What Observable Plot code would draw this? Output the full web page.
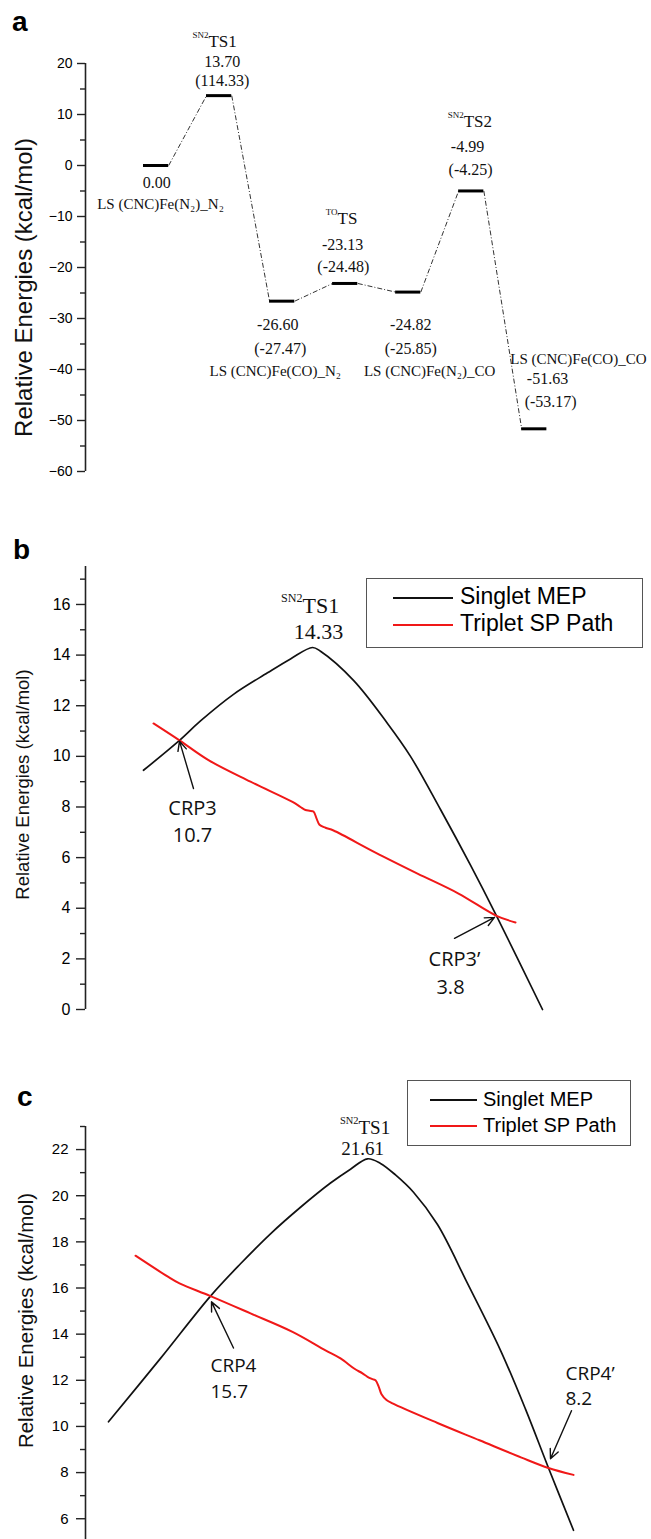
<!DOCTYPE html>
<html><head><meta charset="utf-8">
<script src="https://cdn.jsdelivr.net/npm/d3@7"></script>
<script src="https://cdn.jsdelivr.net/npm/@observablehq/plot@0.6"></script>
<style>
html,body{margin:0;padding:0;background:#fff;overflow:hidden}
#root{position:relative;width:651px;height:1539px;overflow:hidden}
.letter{position:absolute;font-family:"Liberation Sans",Arial,sans-serif;font-weight:bold;line-height:1;color:#000}
.legend{position:absolute;border:1.5px solid #555;box-sizing:border-box;font-family:"Liberation Sans",Arial,sans-serif;color:#000;background:#fff}
.legend .sw{position:absolute;height:0;border-top-style:solid}
.legend .lab{position:absolute;line-height:1;white-space:nowrap}
</style></head><body><div id="root"></div>
<script>
// ---------- Panel a : energy profile ----------
const levelA   = [0, 1, 2, 3, 4, 5, 6];
const energyA  = [0.00, 13.70, -26.60, -23.13, -24.82, -4.99, -51.63];
const energyA2 = [null, 114.33, -27.47, -24.48, -25.85, -4.25, -53.17];
const nameA    = ["LS (CNC)Fe(N₂)_N₂", null, "LS (CNC)Fe(CO)_N₂", null, "LS (CNC)Fe(N₂)_CO", null, "LS (CNC)Fe(CO)_CO"];
const tsSupA   = [null, "SN2", null, "TO", null, "SN2", null];
const tsMainA  = [null, "TS1", null, "TS", null, "TS2", null];
const ticksA   = [-60, -50, -40, -30, -20, -10, 0, 10, 20];
const minorA   = [-55, -45, -35, -25, -15, -5, 5, 15];
// label anchor positions (x in level units, y in kcal/mol)
const valPosA  = [[0.21,-3.5],[1.25,20.4],[2.13,-31.2],[3.16,-15.5],[4.24,-31.2],[5.14,3.7],[6.41,-41.8]];
const val2PosA = [null,[1.25,16.5],[2.17,-35.9],[3.17,-19.8],[4.24,-35.9],[5.19,-0.8],[6.46,-46.3]];
const namePosA = [[0.27,-7.65],null,[2.09,-40.4],null,[4.54,-40.4],null,[6.9,-38.0]];
const tsPosA   = [null,[1.03,24.3],null,[3.08,-10.4],null,[5.08,8.63],null];

// ---------- Panel b ----------
const singletBx = [5.8, 9.4, 11.5, 14.8, 18.2, 20.5, 22.7, 23.5, 26.8, 30.2, 32.5, 35.5, 38.5, 41.1, 45.7];
const singletBy = [9.45, 10.63, 11.4, 12.45, 13.3, 13.85, 14.3, 14.15, 13.0, 11.3, 10.0, 7.9, 5.7, 3.7, 0.0];
const tripletBx = [6.8, 9.4, 12.3, 16.5, 20.7, 21.5, 22.0, 22.4, 22.8, 23.1, 23.4, 24.0, 24.8, 29.0, 33.2, 37.3, 41.1, 43.0];
const tripletBy = [11.3, 10.63, 9.85, 9.0, 8.2, 8.0, 7.88, 7.85, 7.82, 7.55, 7.3, 7.18, 7.07, 6.2, 5.37, 4.58, 3.7, 3.44];
const ticksB = [0, 2, 4, 6, 8, 10, 12, 14, 16];
const minorB = [1, 3, 5, 7, 9, 11, 13, 15, 17];
const arrowsB = [{x1:10.8,y1:8.73,x2:9.4,y2:10.6},{x1:36.9,y1:2.81,x2:40.9,y2:3.64}];
const crpTextB = [{x:10.7,y:7.94,t:"CRP3"},{x:10.7,y:6.88,t:"10.7"},{x:36.9,y:1.98,t:"CRP3’"},{x:36.5,y:0.87,t:"3.8"}];
const tsB = {x:21.7, y:15.93, sup:"SN2", main:"TS1", vx:23.3, vy:14.9, v:"14.33"};

// ---------- Panel c ----------
const singletCx = [2.3, 7.5, 12.5, 15.5, 18.5, 21.5, 24.5, 26.5, 28.2, 29.5, 31.0, 32.8, 35.2, 38.2, 41.5, 44.0, 46.3, 48.8];
const singletCy = [10.2, 12.95, 15.65, 17.05, 18.35, 19.5, 20.55, 21.15, 21.6, 21.4, 20.9, 20.15, 18.75, 16.2, 13.3, 10.75, 8.2, 5.5];
const tripletCx = [5.0, 8.2, 9.4, 12.5, 16.5, 20.7, 24.0, 25.5, 26.9, 27.7, 28.2, 28.7, 29.0, 29.3, 29.6, 30.1, 30.7, 35.2, 39.4, 43.6, 46.3, 48.8];
const tripletCy = [17.4, 16.5, 16.2, 15.65, 14.9, 14.1, 13.3, 12.95, 12.5, 12.3, 12.15, 12.05, 12.0, 11.75, 11.4, 11.15, 11.0, 10.15, 9.4, 8.65, 8.2, 7.9];
const ticksC = [6, 8, 10, 12, 14, 16, 18, 20, 22];
const minorC = [7, 9, 11, 13, 15, 17, 19, 21, 23];
const arrowsC = [{x1:14.8,y1:13.4,x2:12.6,y2:15.4},{x1:48.6,y1:10.68,x2:46.5,y2:8.6}];
const crpTextC = [{x:12.5,y:12.62,t:"CRP4"},{x:12.5,y:11.5,t:"15.7"},{x:48.0,y:12.28,t:"CRP4’"},{x:48.0,y:11.2,t:"8.2"}];
const tsC = {x:27.3, y:22.93, sup:"SN2", main:"TS1", vx:27.7, vy:22.02, v:"21.61"};

const seriesNames = ["Singlet MEP", "Triplet SP Path"];
const seriesColors = ["#111111", "#f01818"];
const yLabel = "Relative Energies (kcal/mol)";

const SANS = "Liberation Sans, Arial, sans-serif";
const SERIF = "Liberation Serif, Times New Roman, serif";
const CAL = "Open Sans, sans-serif";
const root = document.getElementById("root");

function place(el, top) {
  el.style.position = "absolute"; el.style.left = "0px"; el.style.top = top + "px";
  root.appendChild(el);
}
function yAxisMarks(ticks, minor, xd, yd, o) {
  return [
    Plot.ruleX([xd[0]], {y1: yd[0], y2: yd[1], stroke: "#222", strokeWidth: 1.6}),
    Plot.axisY({ticks, tickSize: o.major, tickPadding: o.pad, fontSize: o.fs, fontFamily: SANS, fill: "#000", stroke: "#222", strokeWidth: 1.4, label: null}),
    Plot.axisY({ticks: minor, tickSize: o.minor, tickFormat: () => "", stroke: "#222", strokeWidth: 1.4, label: null}),
    Plot.text([yLabel], {frameAnchor: "left", rotate: -90, textAnchor: "middle", lineAnchor: "middle", dx: o.ldx, dy: o.ldy, fontSize: o.lfs, fontFamily: SANS, fill: "#111"})
  ];
}

// ---------- build panel a ----------
{
  const xd = [-0.92, 8.06], yd = [-60, 20];
  const bars = levelA.map(i => ({x1: i, x2: i + 0.4, y: energyA[i]}));
  const links = levelA.slice(0, -1).map(i => ({x1: i + 0.4, y1: energyA[i], x2: i + 1, y2: energyA[i + 1]}));
  const nums = [], names = [];
  levelA.forEach(i => {
    nums.push({x: valPosA[i][0], y: valPosA[i][1], t: energyA[i].toFixed(2)});
    if (energyA2[i] != null) nums.push({x: val2PosA[i][0], y: val2PosA[i][1], t: "(" + energyA2[i].toFixed(2) + ")"});
    if (nameA[i]) names.push({x: namePosA[i][0], y: namePosA[i][1], t: nameA[i]});
  });
  const ts = levelA.filter(i => tsMainA[i]).map(i => ({x: tsPosA[i][0], y: tsPosA[i][1], sup: tsSupA[i], main: tsMainA[i]}));
  const p = Plot.plot({
    width: 651, height: 480, marginLeft: 85, marginRight: 0, marginTop: 63, marginBottom: 9,
    style: {fontFamily: SANS, background: "transparent", overflow: "visible"},
    x: {domain: xd, axis: null}, y: {domain: yd},
    marks: [
      ...yAxisMarks(ticksA, minorA, xd, yd, {major: 8, minor: 5, pad: 5, fs: 14, lfs: 24, ldx: -61, ldy: 20}),
      Plot.link(links, {x1: "x1", y1: "y1", x2: "x2", y2: "y2", stroke: "#333", strokeWidth: 1, strokeDasharray: "5,2,1,2"}),
      Plot.ruleY(bars, {x1: "x1", x2: "x2", y: "y", stroke: "#000", strokeWidth: 3}),
      Plot.text(nums, {x: "x", y: "y", text: "t", fontFamily: SERIF, fontSize: 16, fill: "#111"}),
      Plot.text(names, {x: "x", y: "y", text: "t", fontFamily: SERIF, fontSize: 15, fill: "#111"}),
      Plot.text(ts, {x: "x", y: "y", text: "main", textAnchor: "start", fontFamily: SERIF, fontSize: 17, fill: "#111"}),
      Plot.text(ts, {x: "x", y: "y", text: "sup", textAnchor: "end", dy: -6, fontFamily: SERIF, fontSize: 9, fill: "#111"})
    ]
  });
  place(p, 0);
}

function curvePanel(cfg) {
  const xd = [0, 56.6];
  const black = cfg.sx.map((x, i) => ({x, y: cfg.sy[i]}));
  const red = cfg.tx.map((x, i) => ({x, y: cfg.ty[i]}));
  const p = Plot.plot({
    width: 651, height: cfg.height, marginLeft: 85, marginRight: 0, marginTop: cfg.mt, marginBottom: cfg.mb,
    style: {fontFamily: SANS, background: "transparent", overflow: "visible"},
    x: {domain: xd, axis: null}, y: {domain: cfg.yd},
    marks: [
      ...yAxisMarks(cfg.ticks, cfg.minor, xd, cfg.yd, cfg.ax),
      Plot.line(black, {x: "x", y: "y", stroke: seriesColors[0], strokeWidth: 1.7, curve: "catmull-rom"}),
      Plot.line(red, {x: "x", y: "y", stroke: seriesColors[1], strokeWidth: 2, curve: "catmull-rom"}),
      Plot.arrow(cfg.arrows, {x1: "x1", y1: "y1", x2: "x2", y2: "y2", stroke: "#111", strokeWidth: 1.4, headLength: 11, headAngle: 50}),
      Plot.text(cfg.crp, {x: "x", y: "y", text: "t", textAnchor: cfg.crpAnchor, fontFamily: CAL, fontSize: cfg.crpFs, fill: "#111"}),
      Plot.text([cfg.ts], {x: "x", y: "y", text: "main", textAnchor: "start", fontFamily: SERIF, fontSize: cfg.tsFs, fill: "#111"}),
      Plot.text([cfg.ts], {x: "x", y: "y", text: "sup", textAnchor: "end", dy: -cfg.tsFs * 0.38, fontFamily: SERIF, fontSize: cfg.tsFs * 0.55, fill: "#111"}),
      Plot.text([cfg.ts], {x: "vx", y: "vy", text: "v", fontFamily: SERIF, fontSize: cfg.tsFs, fill: "#111"})
    ]
  });
  place(p, cfg.top);
}

curvePanel({top: 480, height: 545, mt: 86, mb: 16, yd: [0, 17.5], ticks: ticksB, minor: minorB,
  sx: singletBx, sy: singletBy, tx: tripletBx, ty: tripletBy, arrows: arrowsB, crp: crpTextB, crpAnchor: "middle", crpFs: 20,
  ts: tsB, tsFs: 22, ax: {major: 9, minor: 5, pad: 6, fs: 16, lfs: 18.5, ldx: -62, ldy: -3.5}});

curvePanel({top: 1025, height: 514, mt: 101, mb: 0, yd: [5.1, 23], ticks: ticksC, minor: minorC,
  sx: singletCx, sy: singletCy, tx: tripletCx, ty: tripletCy, arrows: arrowsC, crp: crpTextC, crpAnchor: "start", crpFs: 19,
  ts: tsC, tsFs: 19, ax: {major: 9, minor: 5, pad: 8, fs: 15, lfs: 20.5, ldx: -59, ldy: -12.5}});

// ---------- panel letters ----------
[["a", 12, 8], ["b", 13, 536], ["c", 17, 1083]].forEach(([t, l, tp]) => {
  const d = document.createElement("div"); d.className = "letter"; d.textContent = t;
  d.style.left = l + "px"; d.style.top = tp + "px"; d.style.fontSize = "28px"; root.appendChild(d);
});

// ---------- legends ----------
function legend(o) {
  const box = document.createElement("div"); box.className = "legend";
  Object.assign(box.style, {left: o.left + "px", top: o.top + "px", width: o.w + "px", height: o.h + "px"});
  seriesNames.forEach((name, i) => {
    const sw = document.createElement("div"); sw.className = "sw";
    Object.assign(sw.style, {left: o.swL + "px", width: o.swW + "px", top: (o.rows[i] - 1) + "px", borderTopWidth: "2px", borderTopColor: seriesColors[i]});
    const lab = document.createElement("div"); lab.className = "lab"; lab.textContent = name;
    Object.assign(lab.style, {left: o.txL + "px", top: (o.rows[i] - o.fs * 0.55) + "px", fontSize: o.fs + "px"});
    box.appendChild(sw); box.appendChild(lab);
  });
  root.appendChild(box);
}
legend({left: 366, top: 578, w: 277, h: 70, swL: 26, swW: 60, txL: 93, rows: [19, 46], fs: 23});
legend({left: 407, top: 1080, w: 224, h: 66, swL: 22, swW: 47, txL: 75, rows: [19, 45], fs: 20});
</script>
</body></html>
